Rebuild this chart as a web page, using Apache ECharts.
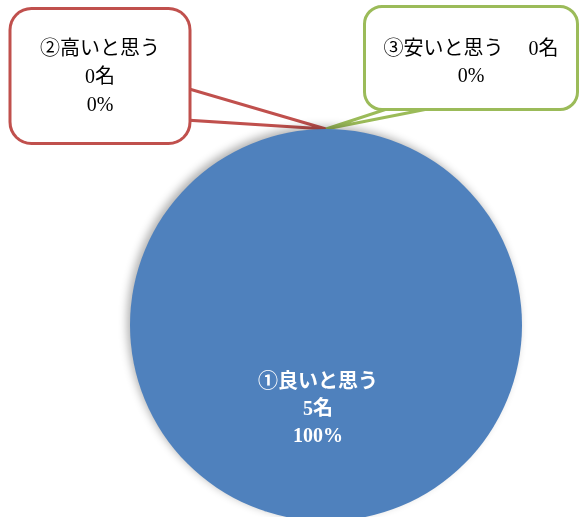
<!DOCTYPE html>
<html>
<head>
<meta charset="utf-8">
<script src="https://cdn.jsdelivr.net/npm/echarts@6/dist/echarts.min.js"></script>
<style>html,body{margin:0;padding:0;background:#fff}#c{width:580px;height:517px}</style>
</head>
<body>
<div id="c"></div>
<script>
const categories = ['①良いと思う', '②高いと思う', '③安いと思う'];
const counts = [5, 0, 0];
const percents = ['100%', '0%', '0%'];
const colors = ['#4F81BD', '#C0504D', '#9BBB59'];

const FONT = '"Liberation Serif", "Noto Sans CJK JP", serif';
const chart = echarts.init(document.getElementById('c'));

const data = categories.map((name, i) => ({
  name: name,
  value: counts[i],
  itemStyle: { color: colors[i] }
}));

data[0].label = {
  position: 'inside',
  color: '#fff',
  fontWeight: 'bold',
  fontSize: 20,
  lineHeight: 27,
  fontFamily: FONT,
  formatter: p => p.name + '\n' + counts[p.dataIndex] + '名\n' + percents[p.dataIndex]
};
data[1].label = {
  position: 'outside',
  color: '#000',
  fontSize: 20,
  lineHeight: 28,
  fontFamily: FONT,
  backgroundColor: '#fff',
  borderColor: colors[1],
  borderWidth: 3,
  borderRadius: 20,
  width: 177,
  align: 'center',
  padding: [26, 0, 22, 0],
  formatter: p => p.name + '\n' + counts[p.dataIndex] + '名\n' + percents[p.dataIndex]
};
data[1].labelLine = { show: true, lineStyle: { color: colors[1], width: 3 } };
data[2].label = {
  position: 'outside',
  color: '#000',
  fontSize: 20,
  lineHeight: 27,
  fontFamily: FONT,
  backgroundColor: '#fff',
  borderColor: colors[2],
  borderWidth: 3,
  borderRadius: 16,
  width: 210,
  align: 'center',
  padding: [28, 0, 18, 0],
  formatter: p => p.name + '　 ' + counts[p.dataIndex] + '名\n' + percents[p.dataIndex]
};
data[2].labelLine = { show: true, lineStyle: { color: colors[2], width: 3 } };

chart.setOption({
  animation: false,
  backgroundColor: '#fff',
  series: [{
    type: 'pie',
    center: [326, 325],
    radius: 196,
    startAngle: 90,
    avoidLabelOverlap: false,
    minShowLabelAngle: 0,
    itemStyle: {
      shadowBlur: 8,
      shadowColor: 'rgba(0,0,0,0.3)',
      shadowOffsetX: -3,
      shadowOffsetY: -3
    },
    labelLine: { length: 20, length2: 20 },
    data: data,
    labelLayout: function (p) {
      const anchor = (p.labelLinePoints && p.labelLinePoints[0]) || [326, 129];
      if (p.dataIndex === 0) {
        return { x: 318, y: 410, align: 'center', verticalAlign: 'middle' };
      }
      if (p.dataIndex === 1) {
        return {
          x: 100, y: 10, align: 'center', verticalAlign: 'top',
          labelLinePoints: [anchor, [186, 88], [186, 120], anchor]
        };
      }
      return {
        x: 471, y: 8, align: 'center', verticalAlign: 'top',
        labelLinePoints: [anchor, [402, 104], [453, 104], anchor]
      };
    }
  }]
});
</script>
</body>
</html>
